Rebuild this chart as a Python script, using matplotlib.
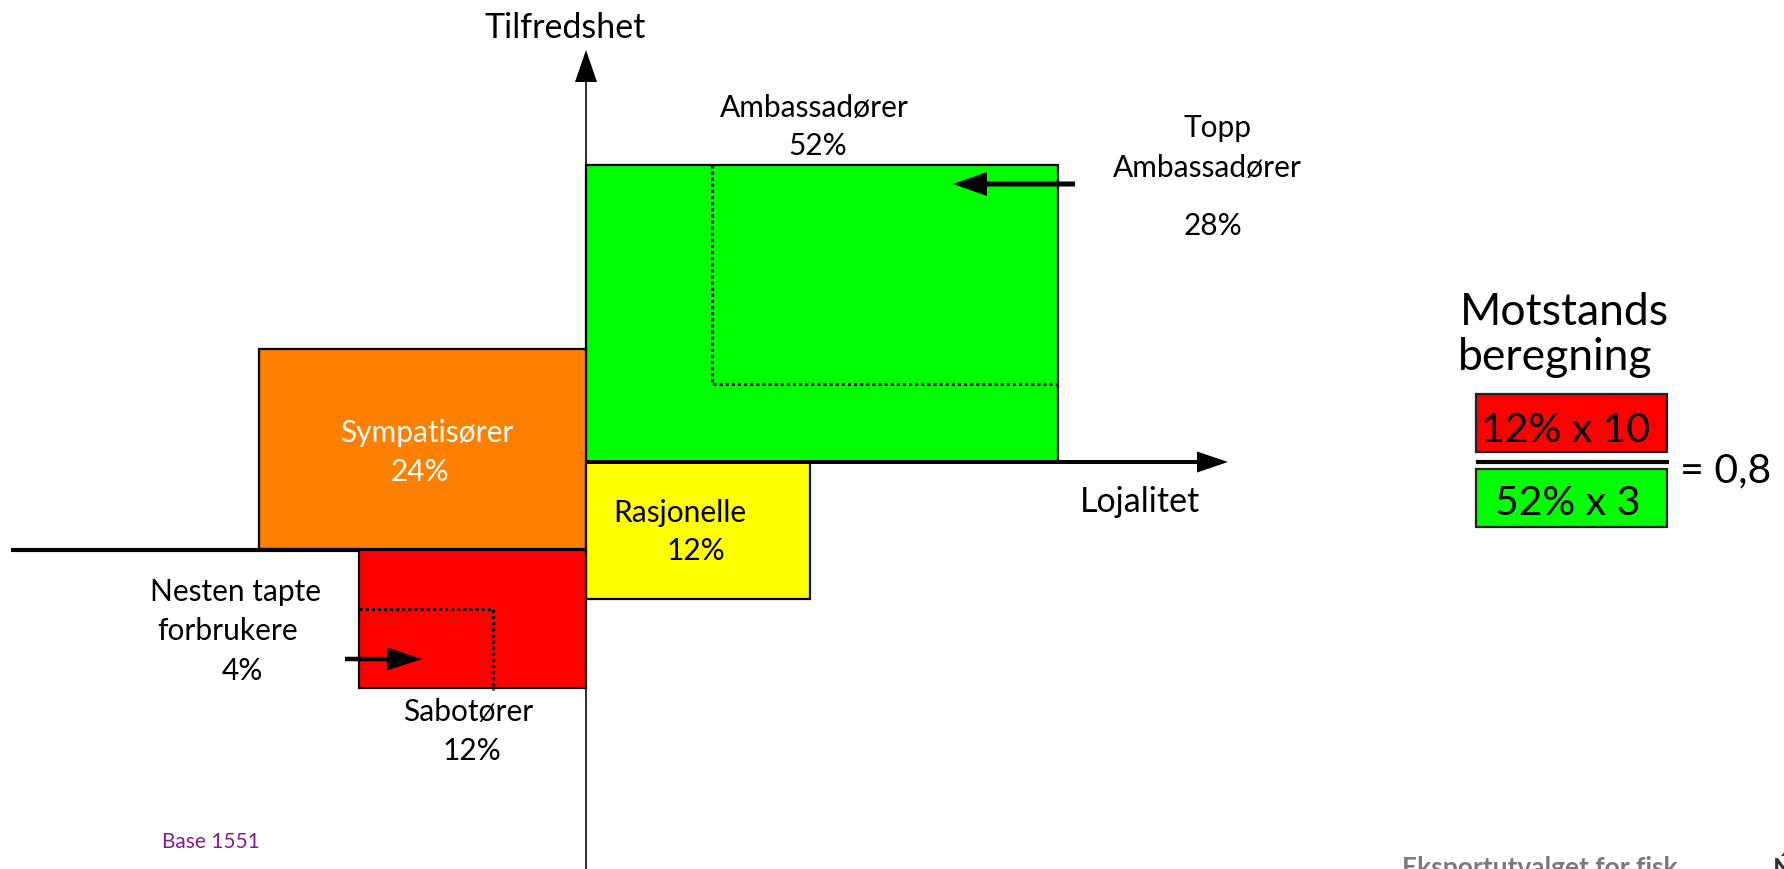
import matplotlib.pyplot as plt
from matplotlib.patches import Rectangle, FancyArrow

plt.rcParams['font.family'] = ['Lato', 'DejaVu Sans']

# diagram is drawn in a pixel-like frame: x to the right, y downwards
W, H = 1784, 869

# segments (name, share) and their boxes in the satisfaction/loyalty frame
seg_names = ['Ambassadører', 'Sympatisører', 'Rasjonelle', 'Sabotører']
seg_share = ['52%', '24%', '12%', '12%']
seg_left = [586, 259, 586, 359]
seg_right = [1058, 586, 810, 586]
seg_top = [165, 349, 462, 550]
seg_bottom = [462, 549, 599, 688]
seg_colors = ['#00FF00', '#FF8000', '#FFFF00', '#FF0000']

# dotted sub-segments (top ambassadors inside green, almost lost inside red)
sub_left = [712, 359]
sub_right = [1060, 493]
sub_top = [165, 609]
sub_bottom = [384, 690]

# resistance calculation
calc_num = '12% x 10'
calc_den = '52% x 3'
calc_result = '= 0,8'

fig = plt.figure(figsize=(W / 100, H / 100), dpi=100)
ax = fig.add_axes([0, 0, 1, 1])
ax.set_xlim(0, W)
ax.set_ylim(H, 0)
ax.axis('off')

for x0, x1, y0, y1, c in zip(seg_left, seg_right, seg_top, seg_bottom, seg_colors):
    ax.add_patch(Rectangle((x0, y0), x1 - x0, y1 - y0, facecolor=c,
                           edgecolor='black', lw=1.6, zorder=2))

# green dotted: vertical down from top, then horizontal to right edge
ax.plot([sub_left[0], sub_left[0], sub_right[0]], [sub_top[0], sub_bottom[0], sub_bottom[0]],
        color='black', lw=2.2, ls=(0, (1, 1)), zorder=3)
# red dotted: horizontal from left edge, then vertical down
ax.plot([sub_left[1], sub_right[1], sub_right[1]], [sub_top[1], sub_top[1], sub_bottom[1]],
        color='black', lw=2.2, ls=(0, (1, 1)), zorder=3)

# axes
ax.add_patch(FancyArrow(586, H, 0, 50 - H, width=1.6, head_width=22, head_length=32,
                        length_includes_head=True, color='black', lw=0, zorder=4))
ax.add_patch(FancyArrow(586, 462, 1228 - 586, 0, width=4, head_width=21, head_length=31,
                        length_includes_head=True, color='black', lw=0, zorder=4))
ax.plot([11, 359], [550, 550], color='black', lw=3, solid_capstyle='butt', zorder=4)

# pointer arrows
ax.add_patch(FancyArrow(1075, 184, 953 - 1075, 0, width=5, head_width=24, head_length=34,
                        length_includes_head=True, color='black', lw=0, zorder=4))
ax.add_patch(FancyArrow(345, 659, 422 - 345, 0, width=4.5, head_width=23, head_length=35,
                        length_includes_head=True, color='black', lw=0, zorder=4))

fs = 21.5
kw = dict(ha='center', va='baseline', fontsize=fs, zorder=5)
ax.text(565, 38, 'Tilfredshet', ha='center', va='baseline', fontsize=24.5, zorder=5)
ax.text(1140, 512, 'Lojalitet', ha='center', va='baseline', fontsize=24.5, zorder=5)

ax.text(814, 117, seg_names[0], **kw)
ax.text(818, 155, seg_share[0], **kw)
ax.text(427, 442, seg_names[1], color='white', **kw)
ax.text(420, 481, seg_share[1], color='white', **kw)
ax.text(680, 522, seg_names[2], **kw)
ax.text(696, 560, seg_share[2], **kw)
ax.text(468, 721, seg_names[3], **kw)
ax.text(472, 760, seg_share[3], **kw)

ax.text(1217, 137, 'Topp', **kw)
ax.text(1207, 177, 'Ambassadører', **kw)
ax.text(1213, 235, '28%', **kw)

ax.text(236, 601, 'Nesten tapte', **kw)
ax.text(228, 640, 'forbrukere', **kw)
ax.text(242, 680, '4%', **kw)

ax.text(162, 848, 'Base 1551', ha='left', va='baseline', fontsize=15, color='#8B1A89')

# resistance calculation block
ax.text(1564, 325, 'Motstands', ha='center', va='baseline', fontsize=32)
ax.text(1555, 370, 'beregning', ha='center', va='baseline', fontsize=32)
ax.add_patch(Rectangle((1476, 394), 191, 58, facecolor='#FF0000', edgecolor='#222222', lw=1.6))
ax.add_patch(Rectangle((1476, 469), 191, 58, facecolor='#00FF00', edgecolor='#222222', lw=1.6))
ax.plot([1476, 1669], [462, 462], color='black', lw=3, solid_capstyle='butt')
ax.text(1566, 442, calc_num, ha='center', va='baseline', fontsize=29.5)
ax.text(1568, 515, calc_den, ha='center', va='baseline', fontsize=29.5)
ax.text(1680, 482, calc_result, ha='left', va='baseline', fontsize=29.5)

# footer (cut off at the bottom of the slide, as in the source)
ax.text(1402, 856, 'Eksportutvalget for fisk', ha='left', va='top', fontsize=19,
        fontweight='bold', color='#7a7a7a')
ax.text(1773, 856, 'Ń', ha='left', va='top', fontsize=19, fontweight='bold', color='#333333')

fig.savefig('out.png', dpi=100)
